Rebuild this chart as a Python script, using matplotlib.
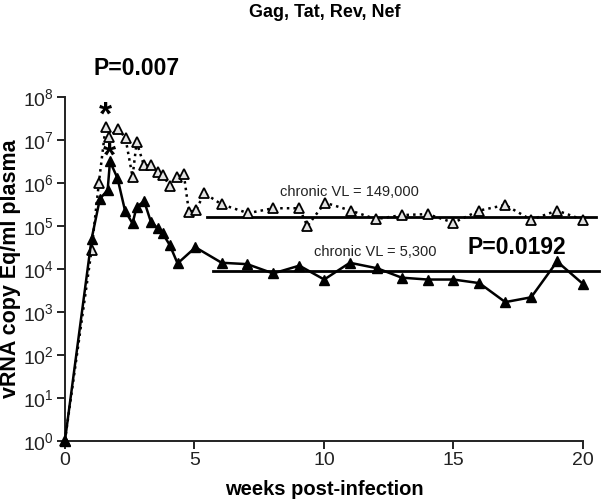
import matplotlib
matplotlib.use("Agg")
import matplotlib.pyplot as plt
import numpy as np

plt.rcParams['font.family'] = ['Liberation Sans', 'DejaVu Sans']
plt.rcParams['mathtext.default'] = 'regular'

# Upper (dotted, open triangles) series
weeks_open = [0, 1.03, 1.31, 1.57, 1.70, 2.06, 2.34, 2.61, 2.77, 3.05, 3.32, 3.58, 3.77,
              4.05, 4.31, 4.59, 4.79, 5.08, 5.37, 6.05, 7.07, 8.04, 9.05, 9.36, 10.04,
              11.03, 12.0, 13.0, 14.0, 15.0, 16.0, 17.0, 18.0, 19.0, 20.0]
vl_open = [1, 2.8e4, 1.0e6, 2.0e7, 1.2e7, 1.85e7, 1.1e7, 1.4e6, 9.0e6, 2.6e6, 2.6e6,
           1.8e6, 1.55e6, 8.7e5, 1.4e6, 1.6e6, 2.1e5, 2.4e5, 5.9e5, 3.2e5, 2.0e5,
           2.6e5, 2.6e5, 1.0e5, 3.5e5, 2.3e5, 1.45e5, 1.8e5, 1.9e5, 1.2e5, 2.3e5,
           3.1e5, 1.4e5, 2.3e5, 1.4e5]

# Lower (solid, filled triangles) series
weeks_fill = [0, 1.03, 1.35, 1.65, 1.74, 2.03, 2.32, 2.61, 2.77, 3.06, 3.32, 3.58, 3.77,
              4.05, 4.35, 5.04, 6.05, 7.04, 8.04, 9.05, 10.01, 11.0, 12.06, 13.0, 14.0,
              15.0, 16.0, 17.0, 18.0, 19.0, 20.0]
vl_fill = [1, 5.0e4, 4.3e5, 6.9e5, 3.2e6, 1.3e6, 2.3e5, 1.15e5, 2.8e5, 3.8e5, 1.25e5,
           8.9e4, 6.8e4, 3.6e4, 1.35e4, 3.2e4, 1.4e4, 1.3e4, 7.9e3, 1.2e4, 5.7e3,
           1.4e4, 1.04e4, 6.3e3, 5.7e3, 5.7e3, 4.7e3, 1.7e3, 2.2e3, 1.5e4, 4.5e3]

# Chronic viral load reference lines (as drawn)
chronic_open = 1.6e5
chronic_open_span = [5.5, 20.5]
chronic_fill = 8.9e3
chronic_fill_span = [5.7, 20.6]

xticks = [0, 5, 10, 15, 20]
yexps = list(range(0, 9))

fig = plt.figure(figsize=(6.01, 5.01), dpi=100)
ax = fig.add_axes([0.108, 0.120, 0.862, 0.686])

ax.plot(weeks_open, vl_open, linestyle=':', color='black', linewidth=1.8,
        marker='^', markersize=7.5, markerfacecolor='#e2e2e2', markeredgecolor='black',
        markeredgewidth=1.3, clip_on=False, zorder=3)
ax.plot(weeks_fill, vl_fill, linestyle='-', color='black', linewidth=1.8,
        marker='^', markersize=7.5, markerfacecolor='black', markeredgecolor='black',
        clip_on=False, zorder=4)

ax.plot(chronic_open_span, [chronic_open, chronic_open], color='black', linewidth=2,
        clip_on=False, zorder=2)
ax.plot(chronic_fill_span, [chronic_fill, chronic_fill], color='black', linewidth=2,
        clip_on=False, zorder=2)

ax.set_yscale('log')
ax.set_xlim(0, 20)
ax.set_ylim(1, 1e8)
ax.set_xticks(xticks)
ax.set_xticklabels([str(t) for t in xticks])
ax.set_yticks([10.0 ** e for e in yexps])
ax.set_yticklabels([r'$10^{%d}$' % e for e in yexps])
ax.yaxis.set_minor_locator(matplotlib.ticker.NullLocator())

for s in ['top', 'right']:
    ax.spines[s].set_visible(False)
for s in ['left', 'bottom']:
    ax.spines[s].set_linewidth(1.4)
    ax.spines[s].set_color('#222222')
ax.tick_params(axis='both', which='major', direction='out', length=6, width=1.4,
               labelsize=14, colors='#222222', pad=2)

ax.set_xlabel('weeks post-infection', fontsize=14.5, fontweight='bold', labelpad=8)
ax.set_ylabel('vRNA copy Eq/ml plasma', fontsize=15.5, fontweight='bold', labelpad=1)

fig.text(0.54, 0.976, 'Gag, Tat, Rev, Nef', ha='center', va='center',
         fontsize=13, fontweight='bold')

ax.text(2.75, 4.7e8, 'P=0.007', ha='center', va='center', fontsize=16.5, fontweight='bold',
        clip_on=False)
ax.text(17.45, 3.2e4, 'P=0.0192', ha='center', va='center', fontsize=16.5, fontweight='bold')
ax.text(1.55, 3.6e7, '*', ha='center', va='center', fontsize=24, fontweight='bold', zorder=6)
ax.text(1.72, 4.0e6, '*', ha='center', va='center', fontsize=24, fontweight='bold', zorder=6)
ax.text(11.0, 6.2e5, 'chronic VL = 149,000', ha='center', va='center', fontsize=10.5,
        color='#222222')
ax.text(12.0, 2.5e4, 'chronic VL = 5,300', ha='center', va='center', fontsize=10.5,
        color='#222222')

fig.savefig('out.png', dpi=100)
